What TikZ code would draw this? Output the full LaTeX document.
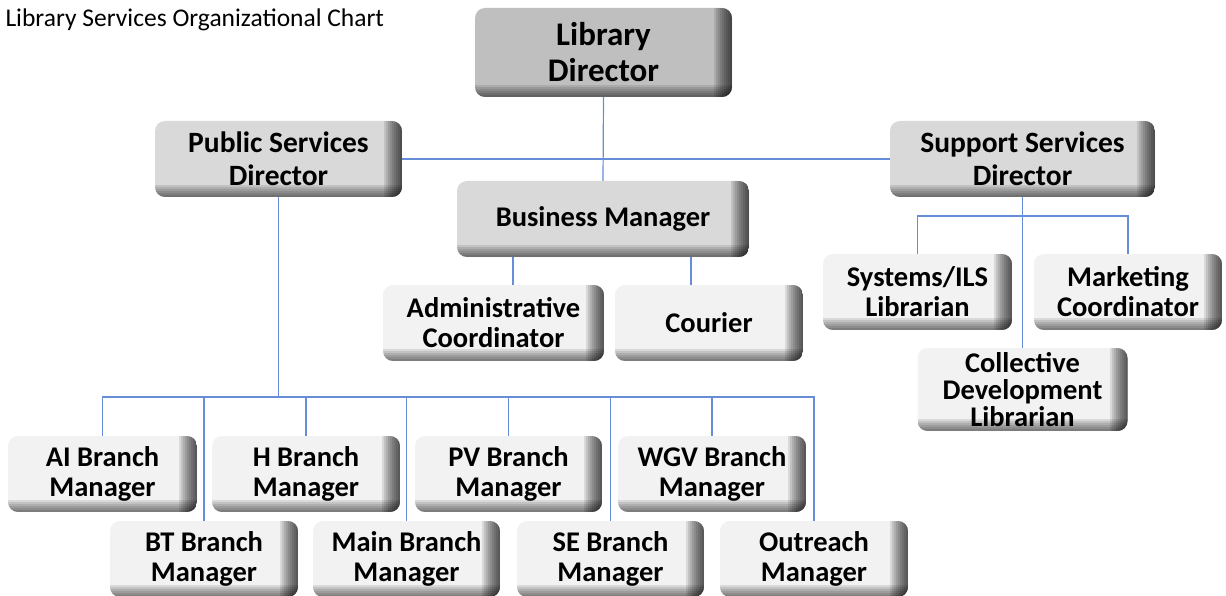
\documentclass[tikz,border=0pt]{standalone}
\usepackage{fontspec}
\setmainfont{Carlito}
\usetikzlibrary{positioning,calc}
\definecolor{orgline}{RGB}{102,142,216}
\definecolor{topgray}{RGB}{191,191,191}
\definecolor{midgray}{RGB}{217,217,217}
\definecolor{lowgray}{RGB}{242,242,242}

\begin{document}
\begin{tikzpicture}[x=1pt,y=-1pt,
  orgbox/.style={rounded corners=10pt, fill=#1, inner sep=0pt, align=center,
    minimum width=188pt, minimum height=76pt,
    font=\fontsize{28.5}{30}\selectfont\bfseries,
    path picture={
      \foreach \i in {1,...,9}
        \fill[black, opacity=0.1, sharp corners] ([xshift={-2pt*\i}]path picture bounding box.north east) rectangle (path picture bounding box.south east);
      \foreach \i in {1,...,6}
        \fill[black, opacity=0.1, sharp corners] ([yshift={2pt*\i}]path picture bounding box.south west) rectangle (path picture bounding box.south east);
    }},
  link/.style={draw=orgline, line width=1.2pt}]
\useasboundingbox (0,0) rectangle (1226,596);

\node[anchor=base west, font=\fontsize{25.5}{28}\selectfont] (title) at (2,27) {Library Services Organizational Chart};

% top level
\node[orgbox=topgray, minimum width=257pt, minimum height=89pt, font=\fontsize{33}{36}\selectfont\bfseries] (libdir) at (603.5,52.5) {Library\\Director};
\node[orgbox=midgray, minimum width=247pt, font=\fontsize{29.5}{33}\selectfont\bfseries] (pubdir) at (278.5,159) {Public Services\\Director};
\node[orgbox=midgray, minimum width=265pt, font=\fontsize{29.5}{33}\selectfont\bfseries] (supdir) at (1022.5,159) {Support Services\\Director};
\node[orgbox=midgray, minimum width=292pt] (busmgr) at (603,219) {Business Manager};

% business office
\node[orgbox=lowgray, minimum width=221pt] (admin) at (493.5,323) {Administrative\\Coordinator};
\node[orgbox=lowgray] (courier) at (709,323) {Courier};

% support services
\node[orgbox=lowgray, minimum width=189pt] (sysils) at (917.5,292) {Systems/ILS\\Librarian};
\node[orgbox=lowgray] (mktg) at (1128,292) {Marketing\\Coordinator};
\node[orgbox=lowgray, minimum width=210pt, minimum height=83pt, font=\fontsize{28.5}{27}\selectfont\bfseries] (colldev) at (1022.5,389.5) {Collective\\Development\\Librarian};

% branches
\node[orgbox=lowgray, minimum width=189pt] (ai) at (102.5,474) {AI Branch\\Manager};
\node[orgbox=lowgray] (h) at (306,474) {H Branch\\Manager};
\node[orgbox=lowgray, minimum width=187pt] (pv) at (508.5,474) {PV Branch\\Manager};
\node[orgbox=lowgray] (wgv) at (712,474) {WGV Branch\\Manager};
\node[orgbox=lowgray] (bt) at (204,559) {BT Branch\\Manager};
\node[orgbox=lowgray, minimum width=187pt] (main) at (406.5,559) {Main Branch\\Manager};
\node[orgbox=lowgray, minimum width=187pt] (se) at (610.5,559) {SE Branch\\Manager};
\node[orgbox=lowgray] (outreach) at (814,559) {Outreach\\Manager};

% connectors
\draw[link] (libdir.south) -- (busmgr.north);
\draw[link] (pubdir.east) -- (supdir.west);
\draw[link] ([xshift=19.5pt]admin.north) -- ([xshift=19.5pt]admin.north |- busmgr.south);
\draw[link] ([xshift=-18pt]courier.north) -- ([xshift=-18pt]courier.north |- busmgr.south);

\coordinate (supbus) at (1022.5,216);
\draw[link] (supdir.south) -- (colldev.north);
\draw[link] (sysils.north) |- (supbus) -| (mktg.north);

\coordinate (pubbus) at (278.5,397);
\draw[link] (pubdir.south) -- (pubbus);
\foreach \b in {ai,bt,h,main,pv,se,wgv,outreach}
  \draw[link] (\b.north) |- (pubbus);
\end{tikzpicture}
\end{document}
